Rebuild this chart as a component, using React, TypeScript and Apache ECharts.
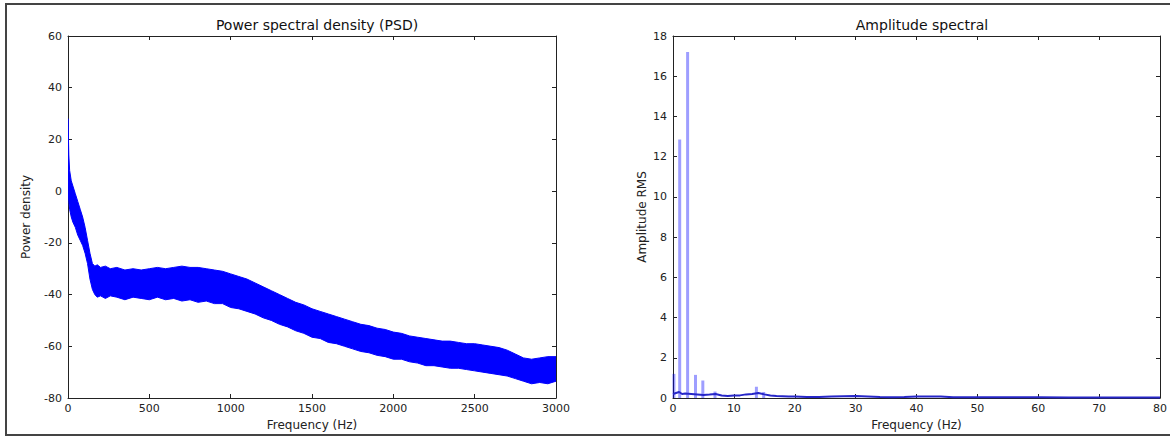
import React, { useEffect, useRef } from "react";
import * as echarts from "echarts";

// ---- PSD (left) : envelope of the dense noisy trace ----
const psdFreq = [0, 5, 10, 20, 30, 45, 60, 75, 90, 105, 120, 135, 150, 165, 180, 200, 230, 260, 300, 350, 400, 450, 500, 550, 600, 650, 700, 750, 800, 850, 900, 950, 1000, 1050, 1100, 1150, 1200, 1250, 1300, 1350, 1400, 1450, 1500, 1550, 1600, 1650, 1700, 1750, 1800, 1850, 1900, 1950, 2000, 2050, 2100, 2150, 2200, 2250, 2300, 2350, 2400, 2450, 2500, 2550, 2600, 2650, 2700, 2750, 2800, 2850, 2900, 2950, 3000];
const psdUpper = [28, 14, 8, 4, 2, -1, -4, -7, -10, -14, -19, -24, -28, -29, -28.5, -29.5, -29, -30, -29.5, -30.5, -30, -30.5, -30, -29.5, -30, -29.5, -29, -29.5, -29.5, -30, -30.5, -31, -32, -33, -34, -35.5, -37, -38.5, -40, -41.5, -43, -44, -45.5, -46.5, -47.5, -48.5, -49.5, -50.5, -51.5, -52, -53, -53.5, -54.5, -55, -56, -56.5, -57, -57.5, -58, -58, -58.5, -59, -59, -59.5, -60, -60.5, -61.5, -63, -64.5, -65, -64.5, -64, -64];
const psdLower = [2, -4, -7, -10, -12, -14, -17, -19, -21, -24, -28, -34, -38, -40, -41, -40.5, -41.5, -40.5, -41, -42, -41, -41.5, -42, -41, -42, -41.5, -42.5, -42, -43, -42.5, -43.5, -43.5, -45, -45.5, -46.5, -47.5, -49, -50, -51.5, -52.5, -54, -55, -56.5, -57, -58.5, -59, -60, -61, -62, -62.5, -63.5, -64, -65, -65, -66, -66.5, -67.5, -67.5, -68, -68.5, -68.5, -69, -69.5, -70, -70.5, -71, -71.5, -72.5, -73.5, -74.5, -74, -74.5, -73.5];

// ---- Amplitude spectrum (right) ----
const ampPeakFreq = [0.15, 1.1, 2.4, 3.7, 4.9, 6.9, 13.7, 14.9];
const ampPeakValue = [1.2, 12.85, 17.2, 1.15, 0.87, 0.32, 0.56, 0.3];
const ampBaseFreq = [0, 0.5, 1, 1.5, 2, 3, 4, 5, 6, 7, 8, 9, 10, 11, 12, 13, 14, 15, 16, 17, 18, 19, 20, 22, 24, 26, 28, 30, 32, 34, 36, 38, 40, 42, 44, 46, 50, 55, 60, 65, 70, 75, 80];
const ampBaseValue = [0.2, 0.25, 0.3, 0.2, 0.22, 0.2, 0.18, 0.15, 0.17, 0.2, 0.12, 0.1, 0.12, 0.13, 0.18, 0.2, 0.25, 0.18, 0.12, 0.1, 0.09, 0.08, 0.08, 0.05, 0.05, 0.07, 0.09, 0.1, 0.08, 0.05, 0.04, 0.05, 0.07, 0.08, 0.07, 0.04, 0.04, 0.04, 0.04, 0.03, 0.03, 0.03, 0.03];

const FONT = "DejaVu Sans";
const AX = "#222";

function xAx(grid: number, min: number, max: number, interval: number, bottom: boolean) {
  return {
    gridIndex: grid,
    type: "value",
    min,
    max,
    interval,
    position: bottom ? "bottom" : "top",
    axisLine: { show: true, onZero: false, lineStyle: { color: AX, width: 1 } },
    axisTick: { show: true, inside: true, length: 4, lineStyle: { color: AX } },
    axisLabel: { show: bottom, color: AX, fontSize: 11, fontFamily: FONT, margin: 5, showMaxLabel: true, showMinLabel: true, formatter: (v: number) => String(v) },
    splitLine: { show: false },
    name: bottom ? "Frequency (Hz)" : "",
    nameLocation: "middle",
    nameGap: 18,
    nameTextStyle: { color: AX, fontSize: 12, fontFamily: FONT },
  };
}

function yAx(grid: number, min: number, max: number, interval: number, left: boolean, name: string, gap: number) {
  return {
    gridIndex: grid,
    type: "value",
    min,
    max,
    interval,
    position: left ? "left" : "right",
    axisLine: { show: true, onZero: false, lineStyle: { color: AX, width: 1 } },
    axisTick: { show: true, inside: true, length: 4, lineStyle: { color: AX } },
    axisLabel: { show: left, color: AX, fontSize: 11, fontFamily: FONT, margin: 6, showMaxLabel: true, showMinLabel: true, formatter: (v: number) => String(v) },
    splitLine: { show: false },
    name: left ? name : "",
    nameLocation: "middle",
    nameGap: gap,
    nameTextStyle: { color: AX, fontSize: 12, fontFamily: FONT },
  };
}

export default function App() {
  const ref = useRef<HTMLDivElement>(null);
  useEffect(() => {
    document.body.style.margin = "0";
    const chart = echarts.init(ref.current!, null, { renderer: "svg" });
    const bandData = psdFreq.map((f, i) => [f, psdUpper[i], psdLower[i]]);
    const peaks = ampPeakFreq.map((f, i) => [f, ampPeakValue[i]]);
    const base = ampBaseFreq.map((f, i) => [f, ampBaseValue[i]]);
    chart.setOption({
      animation: false,
      backgroundColor: "#ffffff",
      title: [
        { text: "Power spectral density (PSD)", left: 312, top: 13, textAlign: "center", textStyle: { fontSize: 14, fontWeight: "normal", color: "#111", fontFamily: FONT } },
        { text: "Amplitude spectral", left: 917, top: 13, textAlign: "center", textStyle: { fontSize: 14, fontWeight: "normal", color: "#111", fontFamily: FONT } },
      ],
      graphic: [
        { type: "rect", shape: { x: 6, y: 4, width: 1170, height: 431 }, style: { fill: "none", stroke: "#444", lineWidth: 2 }, silent: true },
      ],
      grid: [
        { left: 68, top: 36, width: 488, height: 362 },
        { left: 673, top: 36, width: 489, height: 362 },
      ],
      xAxis: [
        xAx(0, 0, 3000, 500, true),
        xAx(0, 0, 3000, 500, false),
        xAx(1, 0, 80, 10, true),
        xAx(1, 0, 80, 10, false),
      ],
      yAxis: [
        yAx(0, -80, 60, 20, true, "Power density", 36),
        yAx(0, -80, 60, 20, false, "", 0),
        yAx(1, 0, 18, 2, true, "Amplitude RMS", 25),
        yAx(1, 0, 18, 2, false, "", 0),
      ],
      series: [
        {
          type: "custom",
          xAxisIndex: 0,
          yAxisIndex: 0,
          data: bandData,
          encode: { x: 0, y: [1, 2] },
          clip: true,
          renderItem: (params: any, api: any) => {
            if (params.dataIndex !== 0) return null;
            const top = bandData.map((d) => api.coord([d[0], d[1]]));
            const bottom = bandData.map((d) => api.coord([d[0], d[2]])).reverse();
            return {
              type: "polygon",
              shape: { points: top.concat(bottom) },
              style: { fill: "#0000ff", stroke: "#0000ff", lineWidth: 1 },
            };
          },
          z: 2,
        },
        {
          type: "bar",
          xAxisIndex: 2,
          yAxisIndex: 2,
          data: peaks,
          barWidth: 3,
          itemStyle: { color: "rgba(0,0,255,0.38)" },
          z: 2,
        },
        {
          type: "line",
          xAxisIndex: 2,
          yAxisIndex: 2,
          data: base,
          showSymbol: false,
          symbol: "none",
          lineStyle: { color: "#2626c8", width: 2 },
          z: 3,
        },
      ],
    });
    return () => chart.dispose();
  }, []);
  return <div ref={ref} style={{ width: 1170, height: 436 }} />;
}
